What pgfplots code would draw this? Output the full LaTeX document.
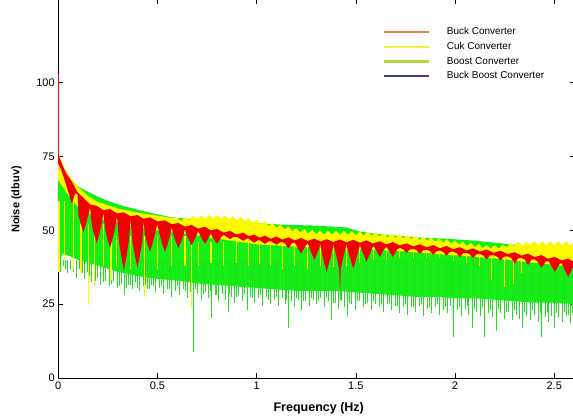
\documentclass[border=0pt]{standalone}
\usepackage{pgfplots}
\pgfplotsset{compat=1.18}
\usepackage{fontspec}
\setmainfont{Liberation Sans}
\definecolor{gr}{RGB}{20,240,20}
\definecolor{sgr}{RGB}{30,225,30}
\definecolor{yl}{RGB}{252,248,0}
\definecolor{rd}{RGB}{240,0,0}
\definecolor{lgor}{RGB}{228,127,70}
\definecolor{lgyl}{RGB}{245,238,70}
\definecolor{lggr}{RGB}{175,215,60}
\definecolor{lgbl}{RGB}{55,60,150}
\begin{document}
\begin{tikzpicture}
\begin{axis}[
  at={(0,0)}, anchor=south west,
  scale only axis, width=516.3pt, height=379.48pt,
  xmin=0, xmax=2.602, ymin=0, ymax=128.5,
  xtick={0,0.5,1,1.5,2,2.5}, ytick={0,25,50,75,100},
  xtick pos=both, ytick pos=both,
  xticklabel pos=bottom, yticklabel pos=left,
  tick align=inside, major tick length=5pt,
  tick style={black, line width=0.6pt},
  axis line style={black, line width=0.8pt},
  /pgf/number format/assume math mode=true,
  ticklabel style={font=\fontsize{11}{13}\selectfont},
  xlabel={Frequency (Hz)}, ylabel={Noise (dbuv)},
  xlabel style={at={(axis description cs:0.5046,-0.0883)}, anchor=base, font=\bfseries\fontsize{12.5}{14}\selectfont},
  ylabel style={at={(axis description cs:-0.0808,0.4704)}, anchor=center, font=\bfseries\fontsize{11}{13}\selectfont},
  legend style={at={(axis description cs:0.629,0.9275)}, anchor=north west, draw=none, fill=none,
    font=\fontsize{10}{12}\selectfont, row sep=3pt, inner sep=0pt, nodes={inner sep=1.5pt}},
  legend cell align=left,
  legend image code/.code={\draw[#1, line width=2.5pt] (0pt,0pt) -- (45pt,0pt); \path[draw=none, fill=none] (0pt,0pt) -- (61pt,0pt);},
  unbounded coords=jump,
]
% Boost (green) body
\addplot[fill=gr, draw=none, forget plot] coordinates {
(0,73) (0.015,71.5) (0.03,70) (0.05,68) (0.08,66) (0.115,64.3) (0.153,63) (0.2,61.4) (0.25,60) (0.32,58.4) (0.4,57) (0.488,55.6) (0.573,54.4) (0.7,53.6) (0.8,53.2) (1.0,52.4) (1.14,51.9) (1.3,51.6) (1.45,51.0) (1.52,49.6) (1.6,48.8) (1.8,47.6) (1.95,47.2) (2.1,46.5) (2.29,45.2) (2.45,44.2) (2.6,43.2) (2.62,43.0)
(2.62,25) (2.6,25) (2.5,25.5) (2.4,25.5) (2.3,26) (2.2,26.5) (2.1,27) (2.0,27) (1.9,27.5) (1.8,27.5) (1.7,28) (1.6,28.5) (1.5,29) (1.4,29.5) (1.3,29.5) (1.2,29.5) (1.1,30) (1.0,30.5) (0.9,31) (0.8,31.5) (0.7,32) (0.6,33) (0.5,33.5) (0.4,34.5) (0.3,36) (0.25,37) (0.2,38) (0.15,39) (0.1,40) (0.05,41.5) (0.02,42) (0.005,38) (0,37)
};
% Boost spikes (each: base, tip, break)
\addplot[sgr, line width=0.9pt, mark=none, forget plot] table[x=x, y=y, row sep=\\] {
x y\\
0.012 40\\ 0.012 36\\ 0.012 nan\\ 0.025 40\\ 0.025 38\\ 0.025 nan\\ 0.045 40\\ 0.045 35.5\\ 0.045 nan\\ 0.06 40\\ 0.06 37\\ 0.06 nan\\
0.09 40\\ 0.09 34\\ 0.09 nan\\ 0.105 40\\ 0.105 37\\ 0.105 nan\\ 0.13 40\\ 0.13 33.5\\ 0.13 nan\\ 0.145 40\\ 0.145 36\\ 0.145 nan\\
0.17 40\\ 0.17 32.5\\ 0.17 nan\\ 0.2 40\\ 0.2 34\\ 0.2 nan\\ 0.215 40\\ 0.215 31.5\\ 0.215 nan\\ 0.24 40\\ 0.24 33\\ 0.24 nan\\
0.26 40\\ 0.26 31\\ 0.26 nan\\ 0.28 40\\ 0.28 33\\ 0.28 nan\\ 0.30 40\\ 0.30 30.5\\ 0.30 nan\\ 0.32 40\\ 0.32 32\\ 0.32 nan\\
0.336 40\\ 0.336 28\\ 0.336 nan\\ 0.355 40\\ 0.355 31.5\\ 0.355 nan\\ 0.375 40\\ 0.375 30\\ 0.375 nan\\ 0.39 40\\ 0.39 32.5\\ 0.39 nan\\
0.41 40\\ 0.41 29.5\\ 0.41 nan\\ 0.43 40\\ 0.43 31\\ 0.43 nan\\ 0.45 40\\ 0.45 30\\ 0.45 nan\\ 0.47 40\\ 0.47 31.5\\ 0.47 nan\\
0.49 40\\ 0.49 29\\ 0.49 nan\\ 0.51 40\\ 0.51 30.5\\ 0.51 nan\\ 0.53 40\\ 0.53 28.5\\ 0.53 nan\\ 0.55 40\\ 0.55 30\\ 0.55 nan\\
0.57 40\\ 0.57 27.5\\ 0.57 nan\\ 0.59 40\\ 0.59 29.5\\ 0.59 nan\\ 0.61 40\\ 0.61 28\\ 0.61 nan\\ 0.63 40\\ 0.63 30\\ 0.63 nan\\
0.65 40\\ 0.65 27\\ 0.65 nan\\ 0.665 40\\ 0.665 29\\ 0.665 nan\\ 0.681 40\\ 0.681 8.9\\ 0.681 nan\\ 0.70 40\\ 0.70 28.5\\ 0.70 nan\\
0.72 40\\ 0.72 26.5\\ 0.72 nan\\ 0.74 40\\ 0.74 29\\ 0.74 nan\\ 0.755 40\\ 0.755 27\\ 0.755 nan\\ 0.773 40\\ 0.773 20.2\\ 0.773 nan\\
0.79 40\\ 0.79 28\\ 0.79 nan\\ 0.81 40\\ 0.81 26\\ 0.81 nan\\ 0.83 40\\ 0.83 28.5\\ 0.83 nan\\ 0.845 40\\ 0.845 26.5\\ 0.845 nan\\
0.857 40\\ 0.857 22.4\\ 0.857 nan\\ 0.875 40\\ 0.875 27.5\\ 0.875 nan\\ 0.89 40\\ 0.89 25.5\\ 0.89 nan\\ 0.91 40\\ 0.91 28\\ 0.91 nan\\
0.93 40\\ 0.93 26\\ 0.93 nan\\ 0.955 40\\ 0.955 23\\ 0.955 nan\\ 0.97 40\\ 0.97 27.5\\ 0.97 nan\\ 0.99 40\\ 0.99 25.5\\ 0.99 nan\\
1.01 40\\ 1.01 27\\ 1.01 nan\\ 1.03 40\\ 1.03 24.5\\ 1.03 nan\\ 1.05 40\\ 1.05 27.5\\ 1.05 nan\\ 1.07 40\\ 1.07 25\\ 1.07 nan\\
1.09 40\\ 1.09 26.5\\ 1.09 nan\\ 1.11 40\\ 1.11 24.5\\ 1.11 nan\\ 1.13 40\\ 1.13 27\\ 1.13 nan\\ 1.145 40\\ 1.145 25\\ 1.145 nan\\
1.159 40\\ 1.159 16.8\\ 1.159 nan\\ 1.175 40\\ 1.175 26\\ 1.175 nan\\ 1.19 40\\ 1.19 24\\ 1.19 nan\\ 1.21 40\\ 1.21 26.5\\ 1.21 nan\\
1.225 40\\ 1.225 23\\ 1.225 nan\\ 1.245 40\\ 1.245 26\\ 1.245 nan\\ 1.265 40\\ 1.265 24.5\\ 1.265 nan\\ 1.285 40\\ 1.285 26.5\\ 1.285 nan\\
1.30 40\\ 1.30 25\\ 1.30 nan\\ 1.32 40\\ 1.32 27\\ 1.32 nan\\ 1.34 40\\ 1.34 24\\ 1.34 nan\\ 1.36 40\\ 1.36 26\\ 1.36 nan\\
1.378 40\\ 1.378 19.6\\ 1.378 nan\\ 1.395 40\\ 1.395 25.5\\ 1.395 nan\\ 1.41 40\\ 1.41 23.5\\ 1.41 nan\\ 1.43 40\\ 1.43 26\\ 1.43 nan\\
1.445 40\\ 1.445 24\\ 1.445 nan\\ 1.46 40\\ 1.46 21\\ 1.46 nan\\ 1.48 40\\ 1.48 25\\ 1.48 nan\\ 1.50 40\\ 1.50 23\\ 1.50 nan\\
1.52 40\\ 1.52 26\\ 1.52 nan\\ 1.54 40\\ 1.54 24\\ 1.54 nan\\ 1.56 40\\ 1.56 25.5\\ 1.56 nan\\ 1.58 40\\ 1.58 23\\ 1.58 nan\\
1.60 40\\ 1.60 25\\ 1.60 nan\\ 1.62 40\\ 1.62 24\\ 1.62 nan\\ 1.64 40\\ 1.64 22.5\\ 1.64 nan\\ 1.66 40\\ 1.66 25\\ 1.66 nan\\
1.68 40\\ 1.68 23\\ 1.68 nan\\ 1.70 40\\ 1.70 24.5\\ 1.70 nan\\ 1.72 40\\ 1.72 22\\ 1.72 nan\\ 1.74 40\\ 1.74 24\\ 1.74 nan\\
1.76 40\\ 1.76 21.5\\ 1.76 nan\\ 1.78 40\\ 1.78 24\\ 1.78 nan\\ 1.80 40\\ 1.80 22.5\\ 1.80 nan\\ 1.82 40\\ 1.82 24.5\\ 1.82 nan\\
1.84 40\\ 1.84 21\\ 1.84 nan\\ 1.86 40\\ 1.86 23.5\\ 1.86 nan\\ 1.88 40\\ 1.88 22\\ 1.88 nan\\ 1.90 40\\ 1.90 24\\ 1.90 nan\\
1.92 40\\ 1.92 21.5\\ 1.92 nan\\ 1.94 40\\ 1.94 23\\ 1.94 nan\\ 1.96 40\\ 1.96 22\\ 1.96 nan\\ 1.99 40\\ 1.99 14\\ 1.99 nan\\
2.01 40\\ 2.01 23\\ 2.01 nan\\ 2.03 40\\ 2.03 21\\ 2.03 nan\\ 2.05 40\\ 2.05 23.5\\ 2.05 nan\\ 2.07 40\\ 2.07 21.5\\ 2.07 nan\\
2.09 40\\ 2.09 17\\ 2.09 nan\\ 2.11 40\\ 2.11 22.5\\ 2.11 nan\\ 2.13 40\\ 2.13 21\\ 2.13 nan\\ 2.15 40\\ 2.15 14\\ 2.15 nan\\
2.17 40\\ 2.17 22\\ 2.17 nan\\ 2.19 40\\ 2.19 20.5\\ 2.19 nan\\ 2.21 40\\ 2.21 16\\ 2.21 nan\\ 2.23 40\\ 2.23 22\\ 2.23 nan\\
2.25 40\\ 2.25 20\\ 2.25 nan\\ 2.27 40\\ 2.27 22.5\\ 2.27 nan\\ 2.29 40\\ 2.29 19.5\\ 2.29 nan\\ 2.31 40\\ 2.31 21.5\\ 2.31 nan\\
2.325 40\\ 2.325 20\\ 2.325 nan\\ 2.34 40\\ 2.34 17\\ 2.34 nan\\ 2.36 40\\ 2.36 21\\ 2.36 nan\\ 2.38 40\\ 2.38 19.5\\ 2.38 nan\\
2.40 40\\ 2.40 21.5\\ 2.40 nan\\ 2.42 40\\ 2.42 19\\ 2.42 nan\\ 2.436 40\\ 2.436 14\\ 2.436 nan\\ 2.455 40\\ 2.455 20.5\\ 2.455 nan\\
2.47 40\\ 2.47 19\\ 2.47 nan\\ 2.485 40\\ 2.485 21\\ 2.485 nan\\ 2.50 40\\ 2.50 16.8\\ 2.50 nan\\ 2.52 40\\ 2.52 20.5\\ 2.52 nan\\
2.54 40\\ 2.54 19\\ 2.54 nan\\ 2.56 40\\ 2.56 21\\ 2.56 nan\\ 2.58 40\\ 2.58 18.5\\ 2.58 nan\\ 2.595 40\\ 2.595 20\\ 2.595 nan\\
0.035 40\\ 0.035 37\\ 0.035 nan\\ 0.075 40\\ 0.075 36\\ 0.075 nan\\ 0.12 40\\ 0.12 35.5\\ 0.12 nan\\ 0.16 40\\ 0.16 34.5\\ 0.16 nan\\
0.19 40\\ 0.19 33\\ 0.19 nan\\ 0.23 40\\ 0.23 32.5\\ 0.23 nan\\ 0.27 40\\ 0.27 32\\ 0.27 nan\\ 0.31 40\\ 0.31 31\\ 0.31 nan\\
0.345 40\\ 0.345 30.5\\ 0.345 nan\\ 0.365 40\\ 0.365 31.5\\ 0.365 nan\\ 0.40 40\\ 0.40 30.5\\ 0.40 nan\\ 0.44 40\\ 0.44 31.5\\ 0.44 nan\\
0.46 40\\ 0.46 30\\ 0.46 nan\\ 0.48 40\\ 0.48 31\\ 0.48 nan\\ 0.52 40\\ 0.52 31\\ 0.52 nan\\ 0.56 40\\ 0.56 30\\ 0.56 nan\\
0.60 40\\ 0.60 31\\ 0.60 nan\\ 0.64 40\\ 0.64 29.5\\ 0.64 nan\\ 0.69 40\\ 0.69 30\\ 0.69 nan\\ 0.73 40\\ 0.73 28.5\\ 0.73 nan\\
0.765 40\\ 0.765 29.5\\ 0.765 nan\\ 0.80 40\\ 0.80 28\\ 0.80 nan\\ 0.865 40\\ 0.865 28.5\\ 0.865 nan\\ 0.90 40\\ 0.90 27.5\\ 0.90 nan\\
0.94 40\\ 0.94 28.5\\ 0.94 nan\\ 0.98 40\\ 0.98 27\\ 0.98 nan\\ 1.02 40\\ 1.02 28\\ 1.02 nan\\ 1.06 40\\ 1.06 26.5\\ 1.06 nan\\
1.10 40\\ 1.10 27.5\\ 1.10 nan\\ 1.15 40\\ 1.15 26.5\\ 1.15 nan\\ 1.20 40\\ 1.20 27\\ 1.20 nan\\ 1.235 40\\ 1.235 26\\ 1.235 nan\\
1.275 40\\ 1.275 27\\ 1.275 nan\\ 1.31 40\\ 1.31 26\\ 1.31 nan\\ 1.35 40\\ 1.35 27\\ 1.35 nan\\ 1.385 40\\ 1.385 25.5\\ 1.385 nan\\
1.42 40\\ 1.42 26.5\\ 1.42 nan\\ 1.47 40\\ 1.47 25.5\\ 1.47 nan\\ 1.51 40\\ 1.51 26\\ 1.51 nan\\ 1.55 40\\ 1.55 25\\ 1.55 nan\\
1.59 40\\ 1.59 26\\ 1.59 nan\\ 1.63 40\\ 1.63 25\\ 1.63 nan\\ 1.67 40\\ 1.67 25.5\\ 1.67 nan\\ 1.71 40\\ 1.71 24.5\\ 1.71 nan\\
1.75 40\\ 1.75 25\\ 1.75 nan\\ 1.79 40\\ 1.79 24\\ 1.79 nan\\ 1.83 40\\ 1.83 25\\ 1.83 nan\\ 1.87 40\\ 1.87 24\\ 1.87 nan\\
1.91 40\\ 1.91 25\\ 1.91 nan\\ 1.95 40\\ 1.95 24\\ 1.95 nan\\ 1.975 40\\ 1.975 24.5\\ 1.975 nan\\ 2.02 40\\ 2.02 24\\ 2.02 nan\\
2.06 40\\ 2.06 24.5\\ 2.06 nan\\ 2.10 40\\ 2.10 23.5\\ 2.10 nan\\ 2.14 40\\ 2.14 24\\ 2.14 nan\\ 2.18 40\\ 2.18 23\\ 2.18 nan\\
2.22 40\\ 2.22 23.5\\ 2.22 nan\\ 2.26 40\\ 2.26 22.5\\ 2.26 nan\\ 2.30 40\\ 2.30 23\\ 2.30 nan\\ 2.35 40\\ 2.35 22.5\\ 2.35 nan\\
2.39 40\\ 2.39 23\\ 2.39 nan\\ 2.43 40\\ 2.43 22\\ 2.43 nan\\ 2.465 40\\ 2.465 22.5\\ 2.465 nan\\ 2.51 40\\ 2.51 22\\ 2.51 nan\\
2.55 40\\ 2.55 22.5\\ 2.55 nan\\ 2.57 40\\ 2.57 21.5\\ 2.57 nan\\ 2.59 40\\ 2.59 22\\ 2.59 nan\\
};
% Cuk (yellow) body
\addplot[fill=yl, draw=none, forget plot] coordinates {
(0,76) (0.02,73) (0.04,70.2) (0.07,67.3) (0.1,64.8) (0.15,61.6) (0.2,59.6) (0.3,57.4) (0.4,56) (0.5,55) (0.56,54.3)
(0.60,54.2) (0.62,53.1) (0.64,54.6) (0.66,53.45) (0.68,54.9) (0.70,53.7) (0.72,55.1) (0.74,53.85) (0.76,55.2) (0.78,53.9)
(0.80,55.2) (0.82,53.85) (0.84,55.1) (0.86,53.65) (0.88,54.8) (0.90,53.35) (0.92,54.5) (0.94,53.0) (0.96,54.1) (0.98,52.55)
(1.00,53.6) (1.02,52.05) (1.04,53.1) (1.06,51.5) (1.08,52.5) (1.10,50.9) (1.12,51.9) (1.14,50.3) (1.16,51.3) (1.18,49.75)
(1.20,50.8) (1.22,49.3) (1.24,50.4) (1.26,48.95) (1.28,50.1) (1.30,48.7) (1.32,49.9) (1.34,48.55) (1.36,49.8) (1.38,48.5)
(1.40,49.8) (1.42,48.5) (1.44,49.8) (1.46,48.45) (1.48,49.7) (1.50,48.35) (1.52,49.6) (1.54,48.25) (1.56,49.5) (1.58,48.1)
(1.60,49.3) (1.62,47.9) (1.64,49.1) (1.66,47.7) (1.68,48.9) (1.70,47.5) (1.72,48.7) (1.74,47.25) (1.76,48.4) (1.78,47.0)
(1.80,48.2) (1.82,46.75) (1.84,47.9) (1.86,46.45) (1.88,47.6) (1.90,46.15) (1.92,47.3) (1.94,45.85) (1.96,47.0) (1.98,45.5)
(2.00,46.6) (2.02,45.1) (2.04,46.2) (2.06,44.7) (2.08,45.8) (2.10,44.3) (2.12,45.4) (2.14,43.95) (2.16,45.1) (2.18,43.75)
(2.20,45.0) (2.22,43.8) (2.24,45.2) (2.26,44.2) (2.28,45.8) (2.30,44.65) (2.32,46.1) (2.34,44.85) (2.36,46.2) (2.38,44.95)
(2.40,46.3) (2.42,45.0) (2.44,46.3) (2.46,45.0) (2.48,46.3) (2.50,45.0) (2.52,46.3) (2.54,45.0) (2.56,46.3) (2.58,45.0)
(2.60,46.3) (2.62,45.0) (2.64,46.3)
(2.64,37.5) (2.5,38.3) (2.4,39) (2.2,40.5) (2.0,41.6) (1.8,42.6) (1.6,43.5) (1.4,44.0) (1.2,44.5) (1.0,45.3) (0.8,47.2) (0.7,48.3) (0.6,49.3) (0.5,50) (0.4,51) (0.3,52.5) (0.2,54) (0.1,58) (0.05,62) (0,67)
};
% Cuk spikes (each: base, tip, break)
\addplot[yl, line width=1.1pt, mark=none, forget plot] table[x=x, y=y, row sep=\\] {
x y\\
0.004 60\\ 0.004 36\\ 0.004 nan\\ 0.034 60\\ 0.034 40\\ 0.034 nan\\ 0.076 60\\ 0.076 36.5\\ 0.076 nan\\
0.115 52\\ 0.115 35.5\\ 0.115 nan\\ 0.152 52\\ 0.152 24.7\\ 0.152 nan\\ 0.185 52\\ 0.185 30.9\\ 0.185 nan\\
0.228 52\\ 0.228 38\\ 0.228 nan\\ 0.266 52\\ 0.266 33.2\\ 0.266 nan\\ 0.296 48\\ 0.296 38\\ 0.296 nan\\
0.365 48\\ 0.365 37\\ 0.365 nan\\ 0.437 48\\ 0.437 27.5\\ 0.437 nan\\ 0.500 48\\ 0.500 37\\ 0.500 nan\\
0.572 48\\ 0.572 38\\ 0.572 nan\\ 0.639 48\\ 0.639 38\\ 0.639 nan\\ 0.672 48\\ 0.672 24.1\\ 0.672 nan\\
0.706 46\\ 0.706 38\\ 0.706 nan\\ 0.770 46\\ 0.770 39\\ 0.770 nan\\ 0.833 46\\ 0.833 38\\ 0.833 nan\\
0.8995 46\\ 0.8995 39\\ 0.8995 nan\\ 0.9605 46\\ 0.9605 38\\ 0.9605 nan\\ 1.015 46\\ 1.015 38.5\\ 1.015 nan\\
1.071 46\\ 1.071 38\\ 1.071 nan\\ 1.130 46\\ 1.130 37\\ 1.130 nan\\ 1.192 46\\ 1.192 38\\ 1.192 nan\\
1.2575 46\\ 1.2575 37\\ 1.2575 nan\\ 1.322 44\\ 1.322 38\\ 1.322 nan\\ 1.3865 44\\ 1.3865 37.5\\ 1.3865 nan\\
1.4535 44\\ 1.4535 38\\ 1.4535 nan\\ 1.5205 44\\ 1.5205 39\\ 1.5205 nan\\ 1.5875 44\\ 1.5875 40\\ 1.5875 nan\\
1.6535 44\\ 1.6535 40\\ 1.6535 nan\\ 1.721 44\\ 1.721 40.5\\ 1.721 nan\\ 1.7895 44\\ 1.7895 40.5\\ 1.7895 nan\\
1.8565 44\\ 1.8565 40.5\\ 1.8565 nan\\ 1.9235 44\\ 1.9235 40.5\\ 1.9235 nan\\ 1.9905 42\\ 1.9905 39.5\\ 1.9905 nan\\
2.0575 42\\ 2.0575 39\\ 2.0575 nan\\ 2.125 42\\ 2.125 38\\ 2.125 nan\\ 2.184 42\\ 2.184 33.2\\ 2.184 nan\\
2.251 42\\ 2.251 30.9\\ 2.251 nan\\ 2.293 42\\ 2.293 32\\ 2.293 nan\\ 2.335 42\\ 2.335 35.5\\ 2.335 nan\\
2.402 42\\ 2.402 39\\ 2.402 nan\\ 2.4695 42\\ 2.4695 39\\ 2.4695 nan\\ 2.5365 42\\ 2.5365 39\\ 2.5365 nan\\
};
% Buck (red) body
\addplot[fill=rd, draw=none, forget plot] coordinates {
(0,75.9) (0.02,72.3) (0.04,69.3) (0.069,66.5)
(0.098,62.85) (0.127,61.0) (0.1605,58.75) (0.194,58.3) (0.2275,56.85) (0.261,57.2) (0.296,55.75) (0.331,56.1)
(0.365,54.75) (0.399,55.2) (0.4305,53.9) (0.462,54.4) (0.500,53.0) (0.538,53.4) (0.572,52.05) (0.606,52.5)
(0.639,51.25) (0.672,51.8) (0.706,50.6) (0.740,51.2) (0.770,49.95) (0.800,50.5) (0.833,49.25) (0.866,49.8)
(0.8995,48.6) (0.933,49.2) (0.9605,48.0) (0.988,48.6) (1.015,47.5) (1.042,48.2) (1.071,47.15) (1.100,47.9)
(1.130,46.85) (1.160,47.6) (1.192,46.6) (1.224,47.4) (1.2575,46.4) (1.291,47.2) (1.322,46.2) (1.353,47.0)
(1.3865,46.05) (1.420,46.9) (1.4535,45.95) (1.487,46.8) (1.5205,45.8) (1.554,46.6) (1.5875,45.55) (1.621,46.3)
(1.6535,45.25) (1.686,46.0) (1.721,44.9) (1.756,45.6) (1.7895,44.55) (1.823,45.3) (1.8565,44.25) (1.890,45.0)
(1.9235,43.95) (1.957,44.7) (1.9905,43.6) (2.024,44.3) (2.0575,43.2) (2.091,43.9) (2.125,42.8) (2.159,43.5)
(2.194,42.4) (2.229,43.1) (2.265,41.95) (2.301,42.6) (2.3345,41.45) (2.368,42.1) (2.402,40.95) (2.436,41.6)
(2.4695,40.4) (2.503,41.0) (2.5365,39.8) (2.570,40.4) (2.6025,39.2) (2.635,39.8)
(2.657,36.4) (2.635,33.0) (2.613,36.4) (2.6025,38.4)
(2.592,37.3) (2.570,34.2) (2.548,37.3) (2.5365,39.0)
(2.525,38.45) (2.503,35.9) (2.481,38.45) (2.4695,39.6)
(2.458,39.5) (2.436,37.4) (2.414,39.5) (2.402,40.15)
(2.385,40.1) (2.368,38.2) (2.351,40.1) (2.3345,40.65)
(2.318,40.6) (2.301,38.7) (2.284,40.6) (2.265,41.15)
(2.246,41.1) (2.229,39.8) (2.212,41.1) (2.194,41.6)
(2.176,41.5) (2.159,40.2) (2.142,41.5) (2.125,42.0)
(2.108,41.9) (2.091,40.6) (2.074,41.9) (2.0575,42.4)
(2.041,42.3) (2.024,41.0) (2.007,42.3) (1.9905,42.8)
(1.974,42.7) (1.957,41.4) (1.940,42.7) (1.9235,43.15)
(1.907,43.0) (1.890,41.7) (1.873,43.0) (1.8565,43.45)
(1.840,43.3) (1.823,42.0) (1.806,43.3) (1.7895,43.75)
(1.773,43.6) (1.756,42.3) (1.739,43.6) (1.721,44.1)
(1.708,43.5) (1.686,41.0) (1.664,43.5) (1.6535,44.45)
(1.643,43.65) (1.621,41.0) (1.599,43.65) (1.5875,44.75)
(1.576,42.95) (1.554,39.3) (1.532,42.95) (1.5205,45.0)
(1.509,41.95) (1.487,37.1) (1.465,41.95) (1.4535,45.15)
(1.437,41.0) (1.424,37.0) (1.420,28.6) (1.416,37.0) (1.403,41.0) (1.3865,45.25)
(1.375,41.45) (1.353,35.9) (1.331,41.45) (1.322,45.4)
(1.313,43.55) (1.291,39.9) (1.269,43.55) (1.2575,45.6)
(1.246,44.75) (1.224,42.1) (1.202,44.75) (1.192,45.8)
(1.177,45.6) (1.160,43.8) (1.143,45.6) (1.130,46.05)
(1.117,45.9) (1.100,45.1) (1.083,45.9) (1.071,46.35)
(1.059,46.2) (1.042,45.4) (1.025,46.2) (1.015,46.7)
(1.005,46.6) (0.988,45.8) (0.971,46.6) (0.9605,47.2)
(0.950,47.2) (0.933,46.4) (0.916,47.2) (0.8995,47.8)
(0.883,47.8) (0.866,47.0) (0.849,47.8) (0.833,48.45)
(0.825,48.0) (0.811,46.5) (0.800,45.5) (0.789,46.5) (0.775,48.0) (0.770,49.15)
(0.765,48.35) (0.751,46.6) (0.740,45.5) (0.729,46.6) (0.715,48.35) (0.706,49.8)
(0.697,48.4) (0.683,46.4) (0.672,45.0) (0.661,46.4) (0.647,48.4) (0.639,50.45)
(0.631,48.25) (0.617,45.7) (0.606,44.0) (0.595,45.7) (0.581,48.25) (0.572,51.25)
(0.563,48.05) (0.549,44.8) (0.538,42.7) (0.527,44.8) (0.513,48.05) (0.500,52.2)
(0.487,48.55) (0.473,45.0) (0.462,42.7) (0.451,45.0) (0.437,48.55) (0.4305,53.1)
(0.424,46.35) (0.410,41.0) (0.399,37.5) (0.388,41.0) (0.374,46.35) (0.365,53.95)
(0.356,46.3) (0.342,40.4) (0.331,36.5) (0.320,40.4) (0.306,46.3) (0.296,54.95)
(0.286,50.6) (0.272,46.6) (0.261,44.0) (0.250,46.6) (0.236,50.6) (0.2275,56.05)
(0.219,51.95) (0.205,48.1) (0.194,45.6) (0.183,48.1) (0.169,51.95) (0.1605,57.95)
(0.152,55.2) (0.138,51.7) (0.127,49.4) (0.116,51.7) (0.102,55.2) (0.098,62.05)
(0.086,62.75) (0.069,59.0) (0.052,62.75) (0.035,66.5) (0.015,70.5) (0,72.5)
};
% Buck DC line
\addplot[rd, line width=1.1pt, forget plot] coordinates {(0.003,103) (0.003,74)};
% legend
\addlegendimage{lgor}\addlegendentry{Buck Converter}
\addlegendimage{lgyl}\addlegendentry{Cuk Converter}
\addlegendimage{lggr}\addlegendentry{Boost Converter}
\addlegendimage{lgbl}\addlegendentry{Buck Boost Converter}
\node[anchor=base west, font=\fontsize{11}{13}\selectfont] at (axis description cs:0.9467,-0.0896) {x 10};
\end{axis}
\pgfresetboundingbox
\useasboundingbox (-58.2pt,-38pt) rectangle (514.8pt,378pt);
\end{tikzpicture}
\end{document}
